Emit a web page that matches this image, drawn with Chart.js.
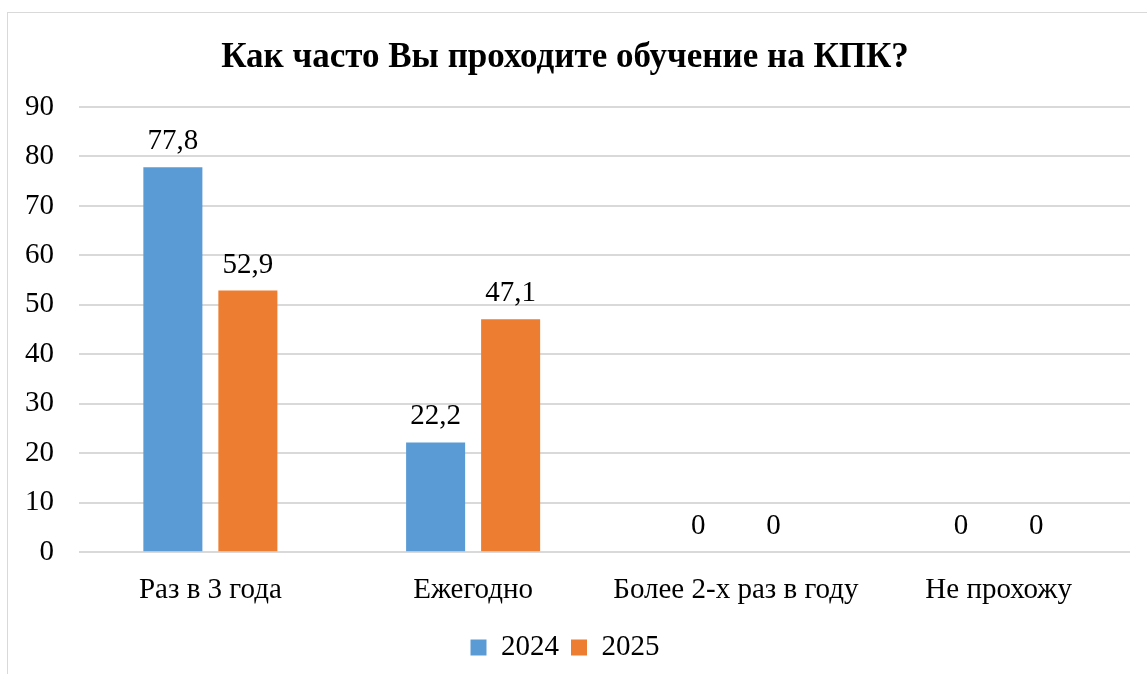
<!DOCTYPE html>
<html>
<head>
<meta charset="utf-8">
<script src="https://cdn.jsdelivr.net/npm/chart.js@4.4.1/dist/chart.umd.min.js"></script>
<style>
    html, body { margin: 0; padding: 0; background: #fff; overflow: hidden; }
    #frame { position: absolute; left: 7px; top: 12px; width: 1200px; height: 700px; border: 1px solid #d9d9d9; }
    #wrap { position: absolute; left: 0; top: 0; width: 1147px; height: 674px; }
</style>
</head>
<body>
<div id="frame"></div>
<div id="wrap"><canvas id="barChart" width="1147" height="674"></canvas></div>
<script>
    // Chart data
    const categories = ['Раз в 3 года', 'Ежегодно', 'Более 2-х раз в году', 'Не прохожу'];
    const seriesNames = ['2024', '2025'];
    const values2024 = [77.8, 22.2, 0, 0];
    const values2025 = [52.9, 47.1, 0, 0];
    const colors = ['#5b9bd5', '#ed7d31'];
    const chartTitle = 'Как часто Вы проходите обучение на КПК?';

    const serif = "'Liberation Serif', 'Times New Roman', serif";

    // Value labels above each bar
    const valueLabels = {
        id: 'valueLabels',
        afterDatasetsDraw(chart) {
            const ctx = chart.ctx;
            ctx.save();
            ctx.font = '29px ' + serif;
            ctx.fillStyle = '#000';
            ctx.textAlign = 'center';
            ctx.textBaseline = 'bottom';
            chart.data.datasets.forEach((ds, i) => {
                chart.getDatasetMeta(i).data.forEach((bar, j) => {
                    const txt = String(ds.data[j]).replace('.', ',');
                    ctx.fillText(txt, bar.x, bar.y - 11);
                });
            });
            ctx.restore();
        }
    };

    const ctx = document.getElementById('barChart').getContext('2d');
    const chart = new Chart(ctx, {
        type: 'bar',
        data: {
            labels: categories,
            datasets: [
                { label: seriesNames[0], data: values2024, backgroundColor: colors[0] },
                { label: seriesNames[1], data: values2025, backgroundColor: colors[1] }
            ]
        },
        options: {
            responsive: false,
            animation: false,
            categoryPercentage: 0.571,
            barPercentage: 0.787,
            layout: { padding: { left: 0, right: 17, top: 10, bottom: 2 } },
            plugins: {
                title: {
                    display: true,
                    text: chartTitle,
                    color: '#000',
                    font: { family: serif, size: 35, weight: 'bold' },
                    padding: { top: 27, bottom: 28 }
                },
                legend: {
                    position: 'bottom',
                    labels: {
                        color: '#000',
                        font: { family: serif, size: 29 },
                        boxWidth: 16,
                        boxHeight: 16,
                        padding: 12
                    }
                },
                tooltip: { enabled: false }
            },
            scales: {
                x: {
                    grid: { display: false },
                    border: { display: false },
                    ticks: { color: '#000', font: { family: serif, size: 29 }, padding: 13 }
                },
                y: {
                    min: 0,
                    max: 90,
                    ticks: { stepSize: 10, color: '#000', font: { family: serif, size: 29 }, padding: 25 },
                    grid: { color: '#d9d9d9', lineWidth: 2, drawTicks: false },
                    border: { display: false },
                    afterFit(scale) { scale.width = 79; }
                }
            }
        },
        plugins: [valueLabels]
    });
</script>
</body>
</html>
